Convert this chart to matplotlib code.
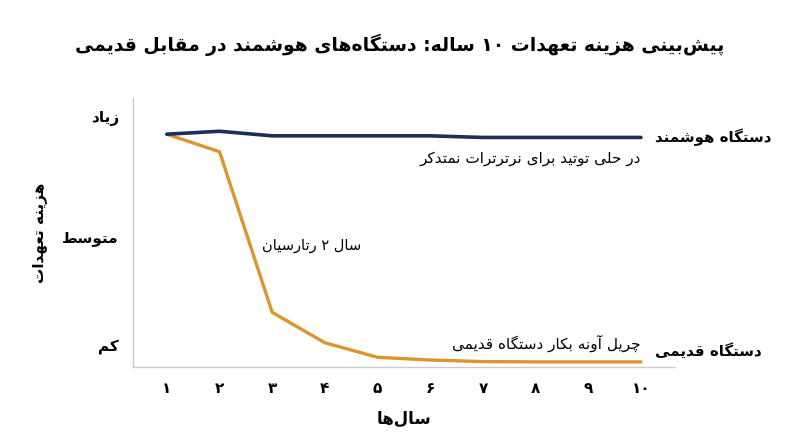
import matplotlib
matplotlib.use("Agg")
import matplotlib.pyplot as plt
from matplotlib import font_manager
from matplotlib.ft2font import FT2Font

# ---------- Data ----------
years = [1, 2, 3, 4, 5, 6, 7, 8, 9, 10]
year_labels = ["۱", "۲", "۳", "۴", "۵", "۶", "۷", "۸", "۹", "۱۰"]
smart_cost = [86.5, 87.6, 85.9, 85.9, 85.9, 85.9, 85.3, 85.3, 85.3, 85.3]
legacy_cost = [86.5, 80.0, 20.3, 9.0, 3.6, 2.6, 2.0, 1.9, 1.9, 1.9]
level_values = [8.2, 48.3, 92.9]
level_labels = ["کم", "متوسط", "زیاد"]

title = "پیش\u200cبینی هزینه تعهدات ۱۰ ساله: دستگاه\u200cهای هوشمند در مقابل قدیمی"
x_title = "سال\u200cها"
y_title = "هزینه تعهدات"
smart_name = "دستگاه هوشمند"
legacy_name = "دستگاه قدیمی"
smart_note = "در حلی توتید برای نرترترات نمتدکر"
legacy_note = "چریل آونه بکار دستگاه قدیمی"
drop_note = "سال ۲ رتارسیان"

NAVY = "#1c2f5c"
ORANGE = "#df952f"

# ---------- Persian shaping (matplotlib has no bidi / joining) ----------
# isolated, final, initial, medial
FORMS = {
    "ا": (0xFE8D, 0xFE8E), "آ": (0xFE81, 0xFE82),
    "ب": (0xFE8F, 0xFE90, 0xFE91, 0xFE92), "پ": (0xFB56, 0xFB57, 0xFB58, 0xFB59),
    "ت": (0xFE95, 0xFE96, 0xFE97, 0xFE98), "ث": (0xFE99, 0xFE9A, 0xFE9B, 0xFE9C),
    "ج": (0xFE9D, 0xFE9E, 0xFE9F, 0xFEA0), "چ": (0xFB7A, 0xFB7B, 0xFB7C, 0xFB7D),
    "ح": (0xFEA1, 0xFEA2, 0xFEA3, 0xFEA4), "خ": (0xFEA5, 0xFEA6, 0xFEA7, 0xFEA8),
    "د": (0xFEA9, 0xFEAA), "ذ": (0xFEAB, 0xFEAC), "ر": (0xFEAD, 0xFEAE),
    "ز": (0xFEAF, 0xFEB0), "ژ": (0xFB8A, 0xFB8B),
    "س": (0xFEB1, 0xFEB2, 0xFEB3, 0xFEB4), "ش": (0xFEB5, 0xFEB6, 0xFEB7, 0xFEB8),
    "ص": (0xFEB9, 0xFEBA, 0xFEBB, 0xFEBC), "ض": (0xFEBD, 0xFEBE, 0xFEBF, 0xFEC0),
    "ط": (0xFEC1, 0xFEC2, 0xFEC3, 0xFEC4), "ظ": (0xFEC5, 0xFEC6, 0xFEC7, 0xFEC8),
    "ع": (0xFEC9, 0xFECA, 0xFECB, 0xFECC), "غ": (0xFECD, 0xFECE, 0xFECF, 0xFED0),
    "ف": (0xFED1, 0xFED2, 0xFED3, 0xFED4), "ق": (0xFED5, 0xFED6, 0xFED7, 0xFED8),
    "ک": (0xFB8E, 0xFB8F, 0xFB90, 0xFB91), "گ": (0xFB92, 0xFB93, 0xFB94, 0xFB95),
    "ل": (0xFEDD, 0xFEDE, 0xFEDF, 0xFEE0), "م": (0xFEE1, 0xFEE2, 0xFEE3, 0xFEE4),
    "ن": (0xFEE5, 0xFEE6, 0xFEE7, 0xFEE8), "ه": (0xFEE9, 0xFEEA, 0xFEEB, 0xFEEC),
    "و": (0xFEED, 0xFEEE), "ی": (0xFBFC, 0xFBFD, 0xFBFE, 0xFBFF),
}
# fallbacks from Arabic forms if the Persian one is missing in the font
FALLBACK = {
    "ی": (0xFEEF, 0xFEF0, 0xFEF3, 0xFEF4),
    "ک": (0xFED9, 0xFEDA, 0xFEDB, 0xFEDC),
}
LAM_ALEF = {"ا": (0xFEFB, 0xFEFC), "آ": (0xFEF5, 0xFEF6)}

font_path = font_manager.findfont(
    font_manager.FontProperties(family="DejaVu Sans", weight="bold"))
charmap = FT2Font(font_path).get_charmap()


def glyph(ch, idx):
    cps = FORMS[ch]
    cp = cps[idx] if idx < len(cps) else cps[idx % 2]
    if cp not in charmap and ch in FALLBACK:
        cp = FALLBACK[ch][idx]
    return chr(cp) if cp in charmap else ch


def dual(ch):
    return ch in FORMS and len(FORMS[ch]) == 4


def shape(text):
    out = []
    i = 0
    n = len(text)
    while i < n:
        ch = text[i]
        if ch not in FORMS:
            if ch != "\u200c":
                out.append(ch)
            i += 1
            continue
        prev = text[i - 1] if i > 0 else ""
        joins_prev = dual(prev)
        if ch == "ل" and i + 1 < n and text[i + 1] in LAM_ALEF:
            out.append(chr(LAM_ALEF[text[i + 1]][1 if joins_prev else 0]))
            i += 2
            continue
        nxt = text[i + 1] if i + 1 < n else ""
        joins_next = dual(ch) and nxt in FORMS
        if joins_prev and joins_next:
            idx = 3
        elif joins_prev:
            idx = 1
        elif joins_next:
            idx = 2
        else:
            idx = 0
        out.append(glyph(ch, idx))
        i += 1
    # visual order: reverse, but keep digit runs left-to-right
    vis = "".join(out)[::-1]
    res, run = [], []
    for c in vis:
        if c.isdigit():
            run.append(c)
        else:
            if run:
                res.extend(run[::-1])
                run = []
            res.append(c)
    res.extend(run[::-1])
    return "".join(res)


plt.rcParams["font.family"] = ["DejaVu Sans"]

# ---------- Plot ----------
fig = plt.figure(figsize=(8, 4.47), dpi=100)
ax = fig.add_axes([0.166, 0.179, 0.678, 0.602])

ax.plot(years, legacy_cost, color=ORANGE, lw=2.4, solid_joinstyle="round",
        solid_capstyle="round", zorder=3)
ax.plot(years, smart_cost, color=NAVY, lw=2.6, solid_joinstyle="round",
        solid_capstyle="round", zorder=4)

ax.set_xlim(0.354, 10.65)
ax.set_ylim(0, 100)
ax.set_xticks(years)
ax.set_xticklabels(year_labels, fontsize=11, fontweight="bold")
ax.set_yticks(level_values)
ax.set_yticklabels([shape(t) for t in level_labels], fontsize=11, fontweight="bold")
ax.tick_params(axis="both", length=0)
ax.tick_params(axis="x", pad=10)
ax.tick_params(axis="y", pad=10)

for side in ["top", "right"]:
    ax.spines[side].set_visible(False)
for side in ["left", "bottom"]:
    ax.spines[side].set_color("#cccccc")
    ax.spines[side].set_linewidth(1)

ax.set_xlabel(shape(x_title), fontsize=12, fontweight="bold", labelpad=10)
ax.set_ylabel(shape(y_title), fontsize=11, fontweight="bold", labelpad=11)

fig.text(0.5, 0.9, shape(title), ha="center", va="center",
         fontsize=13.5, fontweight="bold")

# ---------- Labels ----------
ax.annotate(shape(smart_name), (years[-1], smart_cost[-1]), xytext=(10, 0),
            textcoords="offset points", ha="left", va="center",
            fontsize=10.8, fontweight="bold", annotation_clip=False)
ax.annotate(shape(smart_note), (years[-1], smart_cost[-1]), xytext=(0, -15),
            textcoords="offset points", ha="right", va="center", fontsize=11)
ax.annotate(shape(drop_note), (years[2], legacy_cost[2]), xytext=(-7, 48),
            textcoords="offset points", ha="left", va="center", fontsize=10.5)
ax.annotate(shape(legacy_note), (years[-1], legacy_cost[-1]), xytext=(0, 13.5),
            textcoords="offset points", ha="right", va="center", fontsize=11)
ax.annotate(shape(legacy_name), (years[-1], legacy_cost[-1]), xytext=(10, 8),
            textcoords="offset points", ha="left", va="center",
            fontsize=10.8, fontweight="bold", annotation_clip=False)

fig.savefig("out.png", dpi=100)
